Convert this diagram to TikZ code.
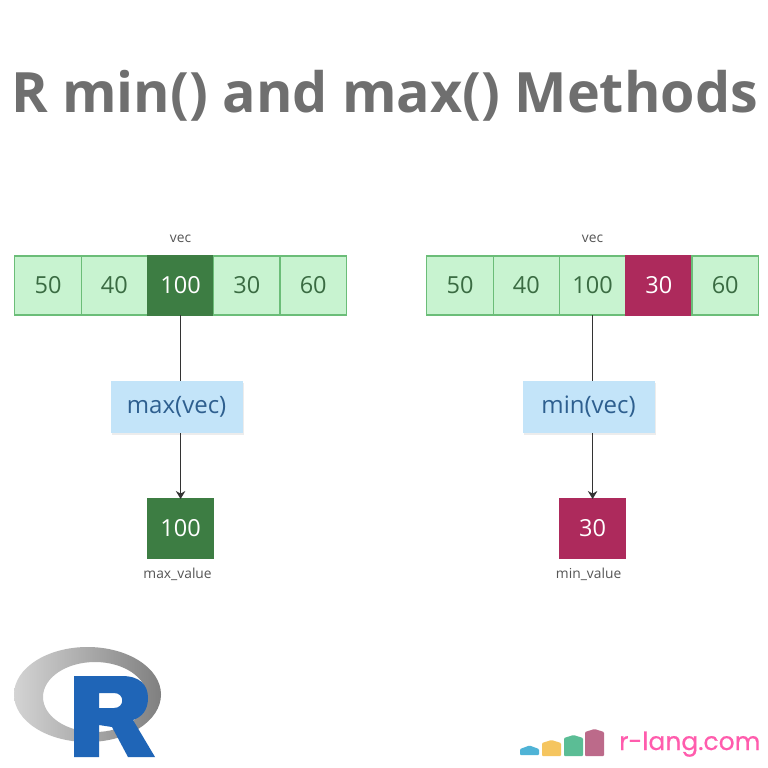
\documentclass[tikz,border=0pt]{standalone}
\usepackage{fontspec}
\setmainfont{Open Sans}
\newfontfamily\brandfont[FakeBold=0.5]{Poppins}
\usetikzlibrary{positioning,shadows,arrows.meta}
\definecolor{cellFill}{HTML}{C8F3D0}
\definecolor{cellEdge}{HTML}{6BBD78}
\definecolor{cellText}{HTML}{3A6B42}
\definecolor{maxFill}{HTML}{3D7D43}
\definecolor{minFill}{HTML}{AD2A5C}
\definecolor{funcFill}{HTML}{C3E4F9}
\definecolor{funcText}{HTML}{2E5F8F}
\definecolor{titleGray}{HTML}{6F6F6F}
\definecolor{labelGray}{HTML}{555555}
\definecolor{lineInk}{HTML}{333333}
\definecolor{brandPink}{HTML}{FF5CAD}
\definecolor{rBlue}{HTML}{1F65B7}
\definecolor{houseBlue}{HTML}{4FB3D6}
\definecolor{houseYellow}{HTML}{F5C55F}
\definecolor{houseGreen}{HTML}{5BBD95}
\definecolor{houseMauve}{HTML}{BC6A8A}
\begin{document}
\begin{tikzpicture}[
        x=1pt, y=-1pt, >={Stealth[length=8pt,width=9.5pt]},
        cell/.style={
            rectangle, draw = cellEdge, fill = cellFill, text = cellText, line width = 1.2pt,
            minimum width = 66.3pt, minimum height = 59pt, inner sep = 0pt, outer sep = 0pt,
            font = \fontsize{23.5}{27}\selectfont
        },
        maxCell/.style={cell, draw = maxFill, fill = maxFill, text = white},
        minCell/.style={cell, draw = minFill, fill = minFill, text = white},
        func/.style={
            rectangle, fill = funcFill, text = funcText, inner sep = 0pt, outer sep = 0pt,
            minimum width = 132pt, minimum height = 52pt,
            drop shadow={shadow xshift=1pt, shadow yshift=-1.5pt, opacity=0.15},
            font = \fontsize{24}{27}\selectfont
        },
        caption/.style={text = labelGray, inner sep = 0pt, font = \fontsize{13.8}{16}\selectfont},
        wire/.style={draw = lineInk, line width = 1.3pt},
    ]
        \useasboundingbox (0,0) rectangle (768,768);
        \fill[white] (0,0) rectangle (768,768);

        \node (title) [text = titleGray, inner sep = 0pt, font = \fontsize{55.6}{66}\bfseries\selectfont] at (384.5,96) {R min() and max() Methods};

        \node (maxA) [cell] at (48,285.5) {50};
        \node (maxB) [cell,right=0pt of maxA] {40};
        \node (maxC) [maxCell,right=0pt of maxB] {100};
        \node (maxD) [cell,right=0pt of maxC] {30};
        \node (maxE) [cell,right=0pt of maxD] {60};
        \node (maxVec) [caption,above=13pt of maxC] {vec};
        \node (maxFunc) [func,below=66pt of maxC,xshift=-4pt] {max(vec)};
        \node (maxValue) [maxCell,below=66pt of maxFunc,xshift=4pt] {100};
        \node (maxName) [caption,below=10pt of maxValue,xshift=-3pt] {max\_value};
        \path (maxC) edge[wire] (maxC |- maxFunc.north);
        \path (maxValue |- maxFunc.south) edge[wire,->] (maxValue);

        \node (minA) [cell] at (460,285.5) {50};
        \node (minB) [cell,right=0pt of minA] {40};
        \node (minC) [cell,right=0pt of minB] {100};
        \node (minD) [minCell,right=0pt of minC] {30};
        \node (minE) [cell,right=0pt of minD] {60};
        \node (minVec) [caption,above=13pt of minC] {vec};
        \node (minFunc) [func,below=66pt of minC,xshift=-4pt] {min(vec)};
        \node (minValue) [minCell,below=66pt of minFunc,xshift=4pt] {30};
        \node (minName) [caption,below=10pt of minValue,xshift=-4pt] {min\_value};
        \path (minC) edge[wire] (minC |- minFunc.north);
        \path (minValue |- minFunc.south) edge[wire,->] (minValue);

        \path[even odd rule, left color = black!17, right color = black!50]
            (87.5,694.5) ellipse [x radius = 73.5, y radius = 47.5]
            (95,697) ellipse [x radius = 52, y radius = 35];
        \fill[rBlue, even odd rule] (74,676) -- (122,676) .. controls (140,676) and (148,685) .. (148,698)
            .. controls (148,710) and (142,717) .. (133,720) -- (155,757) -- (128,757) -- (112,727)
            -- (99,725) -- (99,757) -- (74,757) -- cycle
            (99,693) -- (99,708) -- (114,708) .. controls (125,708) and (125,693) .. (114,693) -- cycle;

        \fill[houseBlue, rounded corners=1pt] (520,755) -- (520,749) -- (529.5,745.5) -- (539,749) -- (539,755) -- cycle;
        \fill[houseYellow, rounded corners=1pt] (542,756) -- (542,743) -- (551.5,740) -- (561,743) -- (561,756) -- cycle;
        \fill[houseGreen, rounded corners=1pt] (564,756) -- (564,738) -- (573.5,735) -- (583,738) -- (583,756) -- cycle;
        \fill[houseMauve, rounded corners=1pt] (585,756) -- (585,732) -- (594.5,729) -- (604,732) -- (604,756) -- cycle;
        \node (brand) [text = brandPink, inner sep = 0pt, anchor = base west, font = \brandfont\fontsize{25}{30}\selectfont] at (619,750) {r-lang.com};
    \end{tikzpicture}
\end{document}
